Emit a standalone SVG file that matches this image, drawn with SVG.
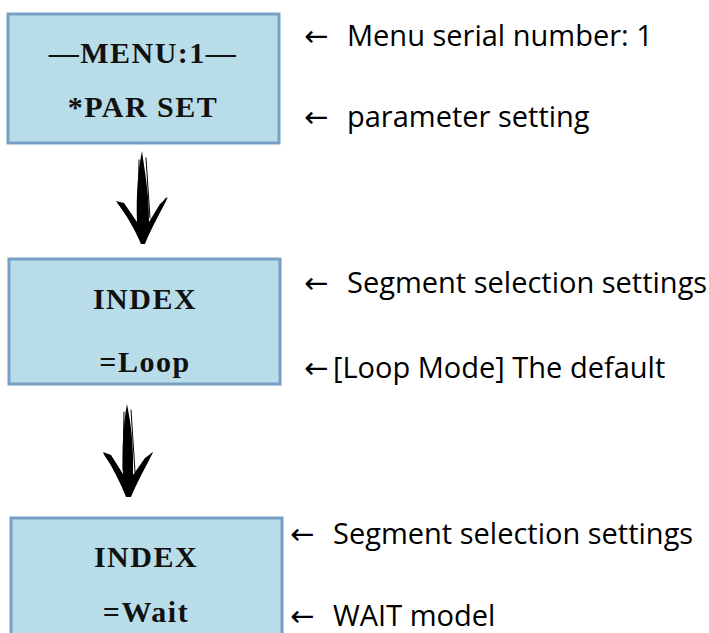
<svg xmlns="http://www.w3.org/2000/svg" width="709" height="633" viewBox="0 0 709 633">
<defs>
<style>
.box{fill:#B8DDE8;stroke:#789FC6;stroke-width:3}
.bt{font-family:"Liberation Serif","Times New Roman",serif;font-weight:bold;font-size:30px;letter-spacing:1.5px;fill:#111;text-anchor:middle}
.lab{font-family:"Open Sans","Noto Sans","DejaVu Sans",sans-serif;font-size:29px;fill:#000}
.arr{fill:#000}
.brush{fill:none;stroke:#000;stroke-linecap:round}
</style>
</defs>
<rect width="709" height="633" fill="#fff"/>
<g id="node-menu1">
<rect class="box" x="8" y="14" width="271" height="129"/>
<text class="bt" x="143" y="63">—MENU:1—</text>
<text class="bt" x="143" y="117">*PAR SET</text>
</g>
<g id="node-index-loop">
<rect class="box" x="9" y="259" width="271" height="125"/>
<text class="bt" x="145" y="309">INDEX</text>
<text class="bt" x="145" y="372">=Loop</text>
</g>
<g id="node-index-wait">
<rect class="box" x="11" y="518" width="271" height="125"/>
<text class="bt" x="146" y="567">INDEX</text>
<text class="bt" x="146" y="622">=Wait</text>
</g>
<g id="labels">
<text class="lab" x="304" y="46">← <tspan x="347">Menu serial number: 1</tspan></text>
<text class="lab" x="304" y="127">← <tspan x="347">parameter setting</tspan></text>
<text class="lab" x="304" y="293">← <tspan x="347">Segment selection settings</tspan></text>
<text class="lab" x="304" y="378">←<tspan x="333">[Loop Mode] The default</tspan></text>
<text class="lab" x="290" y="544">← <tspan x="333">Segment selection settings</tspan></text>
<text class="lab" x="290" y="626">← <tspan x="333">WAIT model</tspan></text>
</g>
<g id="connectors">
<g id="arrow1">
<path class="arr" d="M142 151 C144 168 149 190 149 222 L160 204 L168 197 C162 210 152 226 145 244 L141 244 C134 228 126 214 116 201 L124 203 L137 222 C136 195 138 170 142 151 Z"/>
<path class="brush" stroke-width="1" d="M139 160 L138 215 M146 158 L150 218 M118 203 L130 220 M166 198 L156 212"/>
</g>
<g id="arrow2">
<path class="arr" d="M127 404 C130 420 134 440 133 475 L145 458 L153 452 C147 465 138 480 131 497 L126 497 C120 482 112 466 103 452 L111 455 L123 474 C122 448 123 425 127 404 Z"/>
<path class="brush" stroke-width="1" d="M124 412 L123 470 M131 410 L135 472 M104 454 L116 472 M152 453 L142 466"/>
</g>
</g>
</svg>
